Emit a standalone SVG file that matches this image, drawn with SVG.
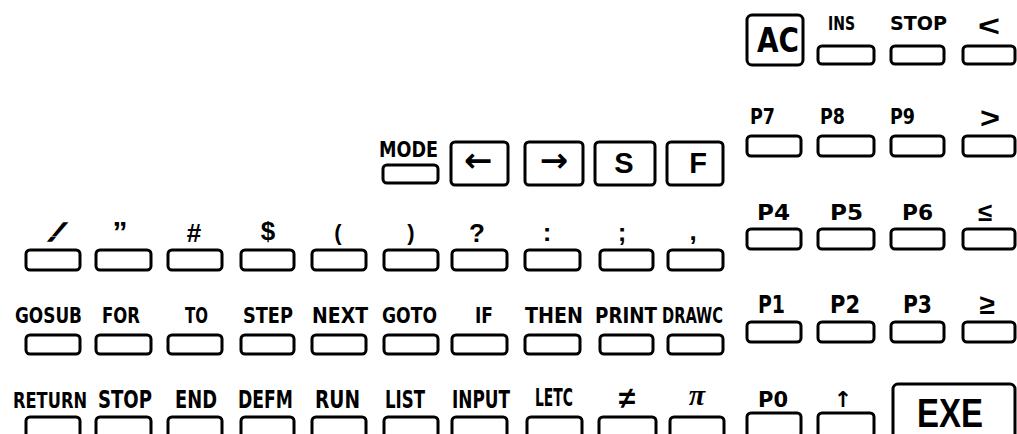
<svg xmlns="http://www.w3.org/2000/svg" width="1017" height="434" viewBox="0 0 1017 434">
<style>
.k{fill:#fff;stroke:#000;stroke-width:3}
.bx{fill:#fff;stroke:#000;stroke-width:3}
.t{font-family:"Liberation Sans Narrow","DejaVu Sans Condensed","Liberation Sans",sans-serif;font-weight:bold;font-size:22px;fill:#000}
.r{font-size:24px}
.p{font-family:"Liberation Sans",sans-serif;font-weight:bold;font-size:26px;fill:#000;text-anchor:middle}
.s{font-family:"DejaVu Sans","Liberation Sans",sans-serif;font-weight:bold;fill:#000;text-anchor:middle}
</style>
<rect width="1017" height="434" fill="#fff"/>

<!-- Top right -->
<g id="key-AC"><rect class="bx" x="747" y="15" width="56" height="50" rx="5"/><text class="t" x="757" y="52" style="font-size:34px" textLength="42" lengthAdjust="spacingAndGlyphs">AC</text></g>
<g id="key-INS"><rect class="k" x="818" y="46" width="56" height="18" rx="4"/><text class="t" x="828" y="30" style="font-size:20px" textLength="27" lengthAdjust="spacingAndGlyphs">INS</text></g>
<g id="key-STOP1"><rect class="k" x="891" y="46" width="53" height="18" rx="4"/><text class="t" x="890" y="30" style="font-size:20px" textLength="57" lengthAdjust="spacingAndGlyphs">STOP</text></g>
<g id="key-lt"><rect class="k" x="963" y="46" width="52" height="18" rx="4"/><text class="p" x="989" y="36" style="font-size:30px" textLength="22" lengthAdjust="spacingAndGlyphs">&lt;</text></g>

<!-- P7 row -->
<g id="key-P7"><rect class="k" x="747" y="136" width="54" height="20" rx="4"/><text class="t" x="750" y="124" textLength="25" lengthAdjust="spacingAndGlyphs">P7</text></g>
<g id="key-P8"><rect class="k" x="818" y="136" width="56" height="20" rx="4"/><text class="t" x="820" y="124" textLength="25" lengthAdjust="spacingAndGlyphs">P8</text></g>
<g id="key-P9"><rect class="k" x="891" y="136" width="53" height="20" rx="4"/><text class="t" x="890" y="124" textLength="25" lengthAdjust="spacingAndGlyphs">P9</text></g>
<g id="key-gt"><rect class="k" x="963" y="136" width="52" height="20" rx="4"/><text class="p" x="990" y="128" style="font-size:30px" textLength="20" lengthAdjust="spacingAndGlyphs">&gt;</text></g>

<!-- MODE row -->
<g id="key-MODE"><rect class="k" x="383" y="165" width="55" height="18" rx="4"/><text class="t" x="379" y="157" textLength="59" lengthAdjust="spacingAndGlyphs">MODE</text></g>
<g id="key-left"><rect class="bx" x="451" y="142" width="57" height="43" rx="4"/><text class="s" x="478" y="172" style="font-size:34px">←</text></g>
<g id="key-right"><rect class="bx" x="525" y="142" width="58" height="43" rx="4"/><text class="s" x="554" y="172" style="font-size:34px">→</text></g>
<g id="key-S"><rect class="bx" x="595" y="142" width="60" height="43" rx="4"/><text class="p" x="624" y="173" style="font-size:29px">S</text></g>
<g id="key-F"><rect class="bx" x="667" y="142" width="56" height="43" rx="4"/><text class="p" x="698" y="173" style="font-size:29px">F</text></g>

<!-- Punctuation row -->
<g id="key-excl"><rect class="k" x="26" y="250" width="54" height="20" rx="4"/><text class="p" transform="translate(50,241) skewX(-40)" x="0" y="0" stroke="#000" stroke-width="1.5">!</text></g>
<g id="key-quote"><rect class="k" x="96" y="250" width="55" height="20" rx="4"/><text class="p" x="120" y="242" style="font-size:30px">”</text></g>
<g id="key-hash"><rect class="k" x="168" y="250" width="54" height="20" rx="4"/><text class="p" x="194" y="242">#</text></g>
<g id="key-dollar"><rect class="k" x="241" y="250" width="53" height="20" rx="4"/><text class="p" x="268" y="240">$</text></g>
<g id="key-lparen"><rect class="k" x="312" y="250" width="54" height="20" rx="4"/><text class="p" x="338" y="240" style="font-size:22px">(</text></g>
<g id="key-rparen"><rect class="k" x="384" y="250" width="54" height="20" rx="4"/><text class="p" x="411" y="240" style="font-size:22px">)</text></g>
<g id="key-quest"><rect class="k" x="452" y="250" width="55" height="20" rx="4"/><text class="p" x="477" y="242">?</text></g>
<g id="key-colon"><rect class="k" x="525" y="250" width="55" height="20" rx="4"/><text class="p" x="547" y="241">:</text></g>
<g id="key-semi"><rect class="k" x="600" y="250" width="53" height="20" rx="4"/><text class="p" x="622" y="241">;</text></g>
<g id="key-comma"><rect class="k" x="668" y="250" width="55" height="20" rx="4"/><text class="p" x="693" y="240">,</text></g>

<!-- P4 row -->
<g id="key-P4"><rect class="k" x="747" y="229" width="54" height="20" rx="4"/><text class="t" x="757" y="220" textLength="33" lengthAdjust="spacingAndGlyphs">P4</text></g>
<g id="key-P5"><rect class="k" x="818" y="229" width="56" height="20" rx="4"/><text class="t" x="830" y="220" textLength="33" lengthAdjust="spacingAndGlyphs">P5</text></g>
<g id="key-P6"><rect class="k" x="891" y="229" width="53" height="20" rx="4"/><text class="t" x="902" y="220" textLength="31" lengthAdjust="spacingAndGlyphs">P6</text></g>
<g id="key-le"><rect class="k" x="963" y="229" width="52" height="20" rx="4"/><text class="p" x="985" y="221" style="font-size:26px">≤</text></g>

<!-- GOSUB row -->
<g id="key-GOSUB"><rect class="k" x="26" y="335" width="54" height="19" rx="4"/><text class="t" x="15" y="323" textLength="67" lengthAdjust="spacingAndGlyphs">GOSUB</text></g>
<g id="key-FOR"><rect class="k" x="96" y="335" width="55" height="19" rx="4"/><text class="t" x="102" y="323" textLength="38" lengthAdjust="spacingAndGlyphs">FOR</text></g>
<g id="key-TO"><rect class="k" x="168" y="335" width="54" height="19" rx="4"/><text class="t" x="185" y="323" textLength="23" lengthAdjust="spacingAndGlyphs">TO</text></g>
<g id="key-STEP"><rect class="k" x="241" y="335" width="53" height="19" rx="4"/><text class="t" x="243" y="323" textLength="50" lengthAdjust="spacingAndGlyphs">STEP</text></g>
<g id="key-NEXT"><rect class="k" x="312" y="335" width="54" height="19" rx="4"/><text class="t" x="312" y="323" textLength="56" lengthAdjust="spacingAndGlyphs">NEXT</text></g>
<g id="key-GOTO"><rect class="k" x="384" y="335" width="54" height="19" rx="4"/><text class="t" x="382" y="323" textLength="55" lengthAdjust="spacingAndGlyphs">GOTO</text></g>
<g id="key-IF"><rect class="k" x="452" y="335" width="55" height="19" rx="4"/><text class="t" x="475" y="323" textLength="18" lengthAdjust="spacingAndGlyphs">IF</text></g>
<g id="key-THEN"><rect class="k" x="525" y="335" width="55" height="19" rx="4"/><text class="t" x="525" y="323" textLength="58" lengthAdjust="spacingAndGlyphs">THEN</text></g>
<g id="key-PRINT"><rect class="k" x="600" y="335" width="53" height="19" rx="4"/><text class="t" x="595" y="323" textLength="62" lengthAdjust="spacingAndGlyphs">PRINT</text></g>
<g id="key-DRAWC"><rect class="k" x="668" y="335" width="55" height="19" rx="4"/><text class="t" x="662" y="323" textLength="61" lengthAdjust="spacingAndGlyphs">DRAWC</text></g>

<!-- P1 row -->
<g id="key-P1"><rect class="k" x="747" y="322" width="54" height="20" rx="4"/><text class="t r" x="758" y="313" textLength="27" lengthAdjust="spacingAndGlyphs">P1</text></g>
<g id="key-P2"><rect class="k" x="818" y="322" width="56" height="20" rx="4"/><text class="t r" x="830" y="313" textLength="30" lengthAdjust="spacingAndGlyphs">P2</text></g>
<g id="key-P3"><rect class="k" x="891" y="322" width="53" height="20" rx="4"/><text class="t r" x="903" y="313" textLength="29" lengthAdjust="spacingAndGlyphs">P3</text></g>
<g id="key-ge"><rect class="k" x="963" y="322" width="52" height="20" rx="4"/><text class="p" x="987" y="314" style="font-size:28px">≥</text></g>

<!-- RETURN row -->
<g id="key-RETURN"><rect class="k" x="26" y="417" width="54" height="24" rx="4"/><text class="t" x="13" y="408" style="font-size:21px" textLength="74" lengthAdjust="spacingAndGlyphs">RETURN</text></g>
<g id="key-STOP2"><rect class="k" x="96" y="417" width="55" height="24" rx="4"/><text class="t r" x="98" y="408" textLength="54" lengthAdjust="spacingAndGlyphs">STOP</text></g>
<g id="key-END"><rect class="k" x="168" y="417" width="54" height="24" rx="4"/><text class="t r" x="175" y="408" textLength="42" lengthAdjust="spacingAndGlyphs">END</text></g>
<g id="key-DEFM"><rect class="k" x="241" y="417" width="53" height="24" rx="4"/><text class="t r" x="238" y="408" textLength="55" lengthAdjust="spacingAndGlyphs">DEFM</text></g>
<g id="key-RUN"><rect class="k" x="312" y="417" width="54" height="24" rx="4"/><text class="t r" x="315" y="408" textLength="45" lengthAdjust="spacingAndGlyphs">RUN</text></g>
<g id="key-LIST"><rect class="k" x="384" y="417" width="54" height="24" rx="4"/><text class="t r" x="385" y="408" textLength="40" lengthAdjust="spacingAndGlyphs">LIST</text></g>
<g id="key-INPUT"><rect class="k" x="452" y="417" width="55" height="24" rx="4"/><text class="t r" x="452" y="408" textLength="58" lengthAdjust="spacingAndGlyphs">INPUT</text></g>
<g id="key-LETC"><rect class="k" x="527" y="417" width="55" height="24" rx="4"/><text class="t r" x="535" y="406" textLength="38" lengthAdjust="spacingAndGlyphs">LETC</text></g>
<g id="key-ne"><rect class="k" x="599" y="417" width="57" height="24" rx="4"/><text class="p" x="627" y="408" style="font-size:30px">≠</text></g>
<g id="key-pi"><rect class="k" x="670" y="417" width="54" height="24" rx="4"/><text class="p" x="697" y="405" style="font-size:30px;font-family:'Liberation Serif',serif;font-style:italic">π</text></g>

<!-- P0 row -->
<g id="key-P0"><rect class="k" x="747" y="413" width="54" height="24" rx="4"/><text class="t" x="758" y="407" textLength="30" lengthAdjust="spacingAndGlyphs">P0</text></g>
<g id="key-up"><rect class="k" x="818" y="413" width="56" height="24" rx="4"/><text class="s" x="843" y="407" style="font-size:22px">↑</text></g>
<g id="key-EXE"><rect class="bx" x="893" y="384" width="122" height="56" rx="5"/><text class="t" x="917" y="427" style="font-size:40px;font-family:'Liberation Sans',sans-serif" textLength="66" lengthAdjust="spacingAndGlyphs">EXE</text></g>
</svg>
